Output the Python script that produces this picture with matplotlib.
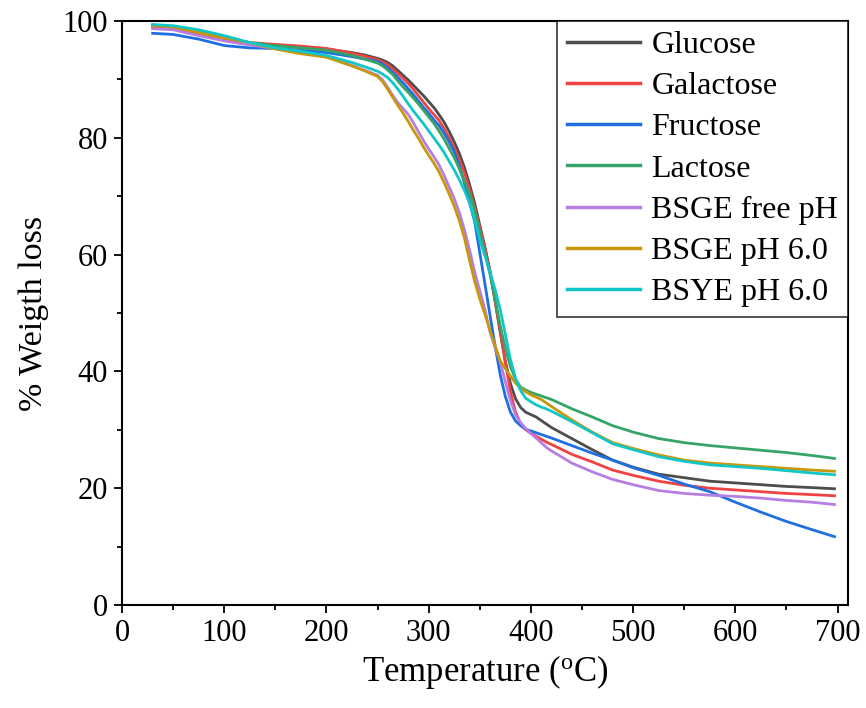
import matplotlib
matplotlib.use("Agg")
import matplotlib.pyplot as plt
from matplotlib.ticker import MultipleLocator

plt.rcParams['font.family'] = ['Liberation Serif', 'DejaVu Serif']
plt.rcParams['mathtext.fontset'] = 'custom'
plt.rcParams['mathtext.rm'] = 'Liberation Serif'
plt.rcParams['mathtext.it'] = 'Liberation Serif:italic'

temperature = [30, 50, 75, 100, 125, 150, 175, 200, 225, 237,
               250, 255, 260, 265, 270, 275, 280, 285, 290, 295, 300, 305, 310, 315, 320,
               325, 330, 335, 340, 345, 350, 355, 360, 365, 370, 375, 380, 385, 390, 395,
               400, 405, 410, 415, 420,
               440, 460, 480, 500, 525, 550, 575, 600, 625, 650, 675, 697]

glucose = [99.0, 98.8, 97.9, 96.9, 96.2, 95.9, 95.6, 95.2, 94.6, 94.2,
           93.6, 93.3, 92.9, 92.3, 91.5, 90.7, 89.9, 89.0, 88.1, 87.2, 86.2, 85.2, 84.0, 82.7, 81.1,
           79.3, 77.3, 74.9, 72.0, 68.8, 65.0, 61.3, 57.2, 52.0, 46.6, 41.7, 37.9, 35.3, 33.8, 33.0,
           32.6, 32.2, 31.6, 31.0, 30.4,
           28.5, 26.6, 24.8, 23.6, 22.4, 21.8, 21.2, 20.9, 20.6, 20.3, 20.1, 19.9]

galactose = [99.0, 98.7, 97.9, 97.0, 96.3, 96.0, 95.7, 95.3, 94.5, 94.0,
             93.4, 93.0, 92.5, 91.8, 91.0, 90.2, 89.3, 88.3, 87.2, 86.1, 85.0, 84.0, 83.0, 81.6, 80.0,
             78.3, 76.3, 74.0, 71.2, 68.0, 64.5, 61.0, 57.0, 52.0, 47.0, 41.5, 36.5, 33.0, 31.0, 30.0,
             29.4, 28.9, 28.4, 27.9, 27.5,
             25.8, 24.5, 23.1, 22.2, 21.2, 20.5, 20.0, 19.7, 19.4, 19.1, 18.9, 18.7]

fructose = [97.9, 97.7, 96.9, 95.8, 95.4, 95.3, 95.0, 94.6, 93.9, 93.5,
            93.1, 92.6, 92.0, 91.2, 90.3, 89.4, 88.4, 87.4, 86.3, 85.2, 84.2, 83.1, 82.1, 80.8, 79.3,
            77.6, 75.2, 72.2, 69.0, 65.6, 60.3, 55.0, 49.6, 44.3, 39.4, 35.7, 33.0, 31.5, 30.7, 30.1,
            29.8, 29.5, 29.2, 28.9, 28.6,
            27.3, 26.0, 24.8, 23.5, 22.2, 20.7, 19.4, 17.6, 15.9, 14.3, 12.9, 11.7]

lactose = [99.3, 99.0, 98.2, 97.2, 96.3, 95.8, 95.4, 95.0, 94.1, 93.5,
           92.8, 92.3, 91.6, 90.8, 89.7, 88.7, 87.8, 86.8, 85.8, 84.7, 83.6, 82.5, 81.2, 79.8, 78.2,
           76.6, 74.7, 72.6, 70.4, 67.7, 63.8, 60.2, 56.6, 52.4, 47.8, 44.0, 40.8, 38.6, 37.3, 36.8,
           36.4, 36.1, 35.8, 35.5, 35.2,
           33.6, 32.2, 30.7, 29.6, 28.5, 27.8, 27.3, 26.9, 26.5, 26.1, 25.6, 25.1]

bsge_free = [98.7, 98.5, 97.5, 96.6, 95.9, 95.3, 94.6, 93.9, 92.4, 91.6,
             90.7, 89.9, 88.6, 87.2, 86.0, 85.0, 84.0, 82.6, 81.0, 79.5, 78.1, 76.8, 75.4, 73.6, 71.6,
             69.6, 67.2, 64.2, 60.8, 57.0, 53.8, 50.6, 46.8, 44.0, 41.6, 38.2, 35.0, 32.6, 31.2, 30.2,
             29.4, 28.6, 27.8, 27.0, 26.4,
             24.3, 22.8, 21.5, 20.6, 19.6, 19.1, 18.8, 18.6, 18.3, 17.9, 17.6, 17.2]

bsge_ph6 = [99.2, 99.0, 98.0, 97.1, 96.3, 95.2, 94.4, 93.8, 92.3, 91.5,
            90.5, 89.6, 88.3, 86.9, 85.5, 84.2, 82.8, 81.3, 79.9, 78.4, 77.0, 75.7, 74.2, 72.4, 70.4,
            68.3, 65.8, 62.8, 59.0, 55.4, 52.4, 49.8, 47.0, 44.4, 41.8, 40.5, 39.2, 38.0, 37.1, 36.5,
            36.0, 35.6, 35.2, 34.6, 34.0,
            31.7, 29.6, 27.8, 26.8, 25.7, 24.8, 24.3, 24.0, 23.7, 23.4, 23.1, 22.9]

bsye_ph6 = [99.4, 99.2, 98.5, 97.5, 96.3, 95.4, 94.8, 94.1, 92.9, 92.2,
            91.4, 90.9, 90.3, 89.4, 88.3, 87.1, 85.8, 84.6, 83.5, 82.4, 81.2, 80.0, 78.8, 77.5, 76.0,
            74.5, 72.8, 71.0, 68.8, 66.0, 62.5, 59.8, 57.0, 54.0, 50.6, 46.3, 42.0, 38.8, 36.7, 35.4,
            34.8, 34.3, 33.9, 33.6, 33.2,
            31.4, 29.5, 27.6, 26.6, 25.4, 24.6, 24.0, 23.7, 23.4, 23.0, 22.6, 22.3]

labels = ["Glucose", "Galactose", "Fructose", "Lactose", "BSGE free pH", "BSGE pH 6.0", "BSYE pH 6.0"]
series = [glucose, galactose, fructose, lactose, bsge_free, bsge_ph6, bsye_ph6]
colors = ["#4d4d4d", "#ef4343", "#1f6fe0", "#36a468", "#b57ee2", "#c9970b", "#10c6c6"]

fig = plt.figure(figsize=(8.66, 7.08), dpi=100)
ax = fig.add_axes([0.1409, 0.1455, 0.979 - 0.1409, 0.9703 - 0.1455])

for vals, lab, col in zip(series, labels, colors):
    ax.plot(temperature, vals, color=col, lw=2.0, label=lab, solid_joinstyle='round')

ax.set_xlim(0, 710)
ax.set_ylim(0, 100)
ax.xaxis.set_major_locator(MultipleLocator(100))
ax.xaxis.set_minor_locator(MultipleLocator(50))
ax.yaxis.set_major_locator(MultipleLocator(20))
ax.yaxis.set_minor_locator(MultipleLocator(10))
ax.tick_params(which='both', direction='out', top=False, right=False, width=1.3, labelsize=22)
ax.tick_params(which='major', length=6, pad=4)
ax.tick_params(which='minor', length=3.5)
for s in ax.spines.values():
    s.set_linewidth(1.5)

ax.set_xlabel("Temperature ($^{\\mathrm{o}}$C)", fontsize=25, labelpad=4)
ax.set_ylabel("% Weigth loss", fontsize=24.5, labelpad=10)

leg = ax.legend(loc='upper right', borderaxespad=0, fontsize=23, frameon=True, fancybox=False,
                handlelength=2.3, handletextpad=0.35, labelspacing=0.37, borderpad=0.3)
leg.get_frame().set_edgecolor('black')
leg.get_frame().set_linewidth(1.2)
for line in leg.get_lines():
    line.set_linewidth(2.5)

fig.savefig("out.png", dpi=100)
